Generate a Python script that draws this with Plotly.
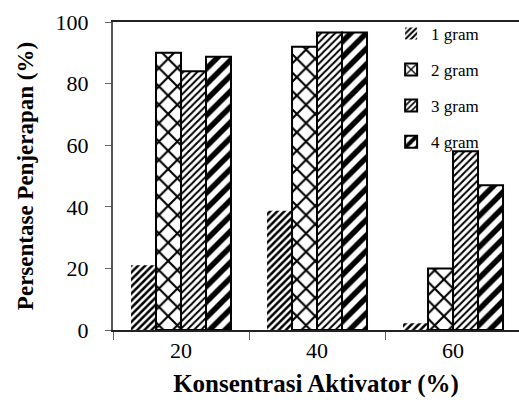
import plotly.graph_objects as go

categories = ["20", "40", "60"]
series_names = ["1 gram", "2 gram", "3 gram", "4 gram"]
v1 = [21, 38.7, 2.2]
v2 = [90, 92, 20]
v3 = [84, 96.6, 58]
v4 = [88.7, 96.6, 47]
values = [v1, v2, v3, v4]

patterns = [
    dict(shape="/", size=5, solidity=0.5, fgcolor="#000000", bgcolor="white", fgopacity=1),
    dict(shape="x", size=13, solidity=0.3, fgcolor="#000000", bgcolor="white", fgopacity=1),
    dict(shape="/", size=5, solidity=0.4, fgcolor="#000000", bgcolor="white", fgopacity=1),
    dict(shape="/", size=11, solidity=0.5, fgcolor="#000000", bgcolor="white", fgopacity=1),
]
linew = [0, 2, 2, 2]

xpos = list(range(len(categories)))
fig = go.Figure()
for i, name in enumerate(series_names):
    fig.add_trace(go.Bar(
        x=xpos, y=values[i], name=name, legendgroup=name,
        marker=dict(color="white", pattern=patterns[i],
                    line=dict(color="black", width=linew[i])),
    ))

serif = "Liberation Serif"
fig.update_layout(
    width=519, height=403,
    margin=dict(l=113, r=0, t=22, b=73, autoexpand=False),
    paper_bgcolor="white", plot_bgcolor="white",
    barmode="group", bargap=0.265, bargroupgap=0,
    font=dict(family=serif, color="black"),
    showlegend=True,
    legend=dict(x=0.685, y=1.02, xanchor="left", yanchor="top",
                font=dict(size=17, family=serif), bgcolor="rgba(0,0,0,0)",
                tracegroupgap=11, itemwidth=30),
    xaxis=dict(range=[-0.5, 2.485], tickmode="array", tickvals=xpos,
               ticktext=categories, ticks="", showgrid=False,
               showline=True, linecolor="#222", linewidth=2, mirror=True,
               tickfont=dict(size=22, family=serif), automargin=False,
               minor=dict(tick0=-0.5, dtick=1, ticks="outside", ticklen=8,
                          tickcolor="#666", tickwidth=1, showgrid=False),
               title=dict(text="<b>Konsentrasi Aktivator (%)</b>",
                          font=dict(size=25, family=serif), standoff=12),
               zeroline=False),
    yaxis=dict(range=[0, 100], dtick=20, ticks="outside", ticklen=6,
               tickcolor="#666", showgrid=False, showline=True,
               linecolor="#555", linewidth=2, zeroline=False, automargin=False,
               tickfont=dict(size=22, family=serif), ticklabelstandoff=12,
               title=dict(text="<b>Persentase Penjerapan (%)</b>",
                          font=dict(size=23, family=serif), standoff=16)),
)
fig.write_html("out.html", config={"displayModeBar": False},
               post_script="document.body.style.margin='0';")
